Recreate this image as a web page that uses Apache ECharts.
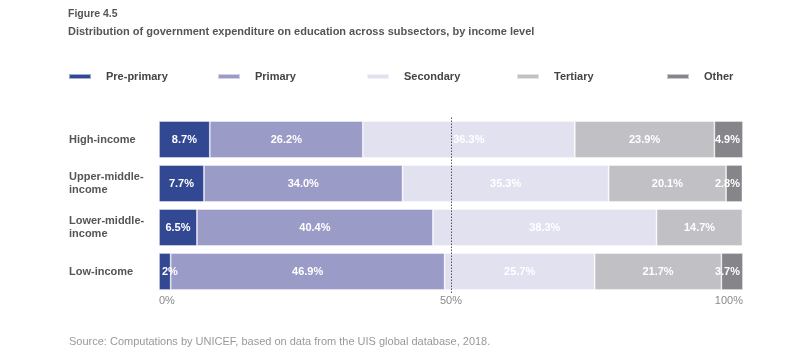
<!DOCTYPE html>
<html>
<head>
<meta charset="utf-8">
<script src="https://cdn.jsdelivr.net/npm/echarts@6/dist/echarts.min.js"></script>
<style>
  html, body { margin: 0; padding: 0; background: #fff; }
  #chart { width: 800px; height: 362px; }
</style>
</head>
<body>
<div id="chart"></div>
<script>
const categories = ['High-income', 'Upper-middle-\nincome', 'Lower-middle-\nincome', 'Low-income'];
const seriesNames = ['Pre-primary', 'Primary', 'Secondary', 'Tertiary', 'Other'];
const prePrimary = [8.7, 7.7, 6.5, 2];
const primary = [26.2, 34.0, 40.4, 46.9];
const secondary = [36.3, 35.3, 38.3, 25.7];
const tertiary = [23.9, 20.1, 14.7, 21.7];
const other = [4.9, 2.8, 0, 3.7];
const xTicks = [0, 50, 100];

const colors = ['#334893', '#9b9bc8', '#e2e1f0', '#c1c1c5', '#86858a'];
const values = [prePrimary, primary, secondary, tertiary, other];
const FONT = '"Liberation Sans", Arial, sans-serif';

const GL = 159, GR = 743;

const chart = echarts.init(document.getElementById('chart'), null, { renderer: 'canvas' });

function fmt(v) {
  return (v % 1 === 0 && v < 10 ? String(v) : v.toFixed(1)) + '%';
}

const legendLefts = [63, 212, 361, 511, 661];

const series = seriesNames.map((name, i) => {
  const s = {
    name: name,
    type: 'bar',
    stack: 'total',
    barWidth: 37,
    data: values[i].map(v => v === 0 ? null : v),
    itemStyle: { color: colors[i], borderColor: 'rgba(255,255,255,0.55)', borderWidth: 0.8 },
    label: {
      show: true,
      position: 'inside',
      color: '#fff',
      fontFamily: FONT,
      fontWeight: 'bold',
      fontSize: 11,
      formatter: p => fmt(p.value)
    },
    emphasis: { disabled: true },
    animation: false
  };
  if (i === 0) {
    s.markLine = {
      silent: true,
      symbol: 'none',
      label: { show: false },
      lineStyle: { type: [1.5, 1.5], color: '#555', width: 1 },
      data: [{ xAxis: 50 }],
      animation: false
    };
  }
  return s;
});

const option = {
  backgroundColor: '#fff',
  textStyle: { fontFamily: FONT },
  title: [
    { text: 'Figure 4.5', left: 63, top: 4, textStyle: { fontFamily: FONT, fontSize: 10.5, fontWeight: 'bold', color: '#555' } },
    { text: 'Distribution of government expenditure on education across subsectors, by income level', left: 63, top: 21, textStyle: { fontFamily: FONT, fontSize: 11, fontWeight: 'bold', color: '#555' } },
    { text: 'Source: Computations by UNICEF, based on data from the UIS global database, 2018.', left: 64, top: 331, textStyle: { fontFamily: FONT, fontSize: 11, fontWeight: 'normal', color: '#999' } }
  ],
  legend: seriesNames.map((name, i) => ({
    data: [name],
    left: legendLefts[i],
    top: 66,
    icon: 'rect',
    itemWidth: 22,
    itemHeight: 5,
    selectedMode: false,
    textStyle: { fontFamily: FONT, fontSize: 11, fontWeight: 'bold', color: '#444', padding: [0, 0, 0, 10] }
  })),
  grid: { left: GL, right: 800 - GR, top: 117.5, height: 176, containLabel: false },
  xAxis: {
    type: 'value',
    min: xTicks[0],
    max: xTicks[xTicks.length - 1],
    interval: xTicks[1] - xTicks[0],
    axisLine: { show: false },
    axisTick: { show: false },
    splitLine: { show: false },
    axisLabel: {
      formatter: '{value}%',
      color: '#8a8a8a',
      fontFamily: FONT,
      fontSize: 11,
      margin: 2,
      alignMinLabel: 'left',
      alignMaxLabel: 'right'
    }
  },
  yAxis: {
    type: 'category',
    data: categories,
    inverse: true,
    axisLine: { show: false },
    axisTick: { show: false },
    axisLabel: {
      align: 'left',
      margin: GL - 69,
      color: '#555',
      fontFamily: FONT,
      fontWeight: 'bold',
      fontSize: 11,
      lineHeight: 13
    }
  },
  labelLayout: function (params) {
    const r = params.labelRect;
    if (r.x < GL + 3) return { dx: GL + 3 - r.x };
    if (r.x + r.width > GR - 3) return { dx: GR - 3 - (r.x + r.width) };
    return {};
  },
  series: series
};

chart.setOption(option);
</script>
</body>
</html>
